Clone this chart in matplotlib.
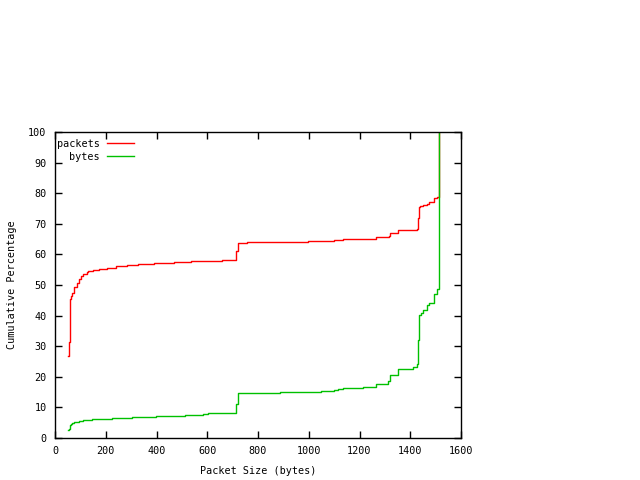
import matplotlib
matplotlib.use("Agg")
import matplotlib.pyplot as plt

# CDF of packet sizes (step curves)
pkt_x = [51, 54, 58, 60, 62, 68, 76, 85, 94, 102, 112, 125, 131, 148, 175, 204,
         223, 240, 282, 326, 391, 469, 536, 585, 657, 715, 720, 755, 996, 1101,
         1136, 1264, 1315, 1321, 1353, 1428, 1432, 1436, 1440, 1451, 1467, 1475,
         1495, 1504, 1514]
pkt_y = [26.8, 31.5, 44.0, 45.5, 46.5, 47.4, 49.2, 50.5, 51.9, 52.9, 53.6, 54.1,
         54.7, 54.9, 55.2, 55.4, 55.7, 56.1, 56.4, 56.7, 57.1, 57.5, 57.8, 58.0,
         58.3, 61.2, 63.6, 64.0, 64.3, 64.7, 65.0, 65.6, 66.0, 66.9, 67.9, 68.3,
         71.8, 75.6, 75.9, 76.1, 76.6, 77.0, 78.3, 78.9, 100.0]

byte_x = [51, 54, 58, 62, 68, 76, 94, 112, 144, 223, 302, 398, 512, 585, 604,
          715, 720, 887, 1048, 1101, 1117, 1136, 1215, 1264, 1300, 1313, 1321,
          1353, 1412, 1425, 1432, 1436, 1442, 1451, 1467, 1473, 1495, 1504, 1514]
byte_y = [2.6, 3.0, 4.2, 4.5, 5.0, 5.3, 5.6, 5.8, 6.1, 6.4, 6.8, 7.1, 7.5, 7.8,
          8.3, 11.2, 14.6, 14.9, 15.2, 15.7, 16.0, 16.3, 16.6, 17.5, 17.8, 18.5,
          20.6, 22.4, 23.1, 24.1, 32.0, 40.2, 40.7, 41.8, 43.5, 44.0, 47.1, 48.7,
          100.0]

x_ticks = list(range(0, 1601, 200))
y_ticks = list(range(0, 101, 10))

fs = 7.3
plt.rcParams['font.family'] = ['DejaVu Sans Mono']
plt.rcParams['font.size'] = fs

fig = plt.figure(figsize=(6.4, 4.8), dpi=100)
ax = fig.add_axes([55 / 640, 42 / 480, 406 / 640, 306 / 480])

ax.step(pkt_x, pkt_y, where='post', color='#ff0000', lw=1, label='packets')
ax.step(byte_x, byte_y, where='post', color='#00c000', lw=1, label='bytes')

ax.set_xlim(0, 1600)
ax.set_ylim(0, 100)
ax.set_xticks(x_ticks)
ax.set_yticks(y_ticks)
ax.tick_params(direction='in', length=5, width=1, top=True, right=True,
               labelsize=fs, pad=6)
for s in ax.spines.values():
    s.set_linewidth(1)

ax.set_xlabel("Packet Size (bytes)", fontsize=fs, labelpad=7)
ax.set_ylabel("Cumulative Percentage", fontsize=fs, labelpad=8)

ax.legend(loc='upper left', bbox_to_anchor=(0.0, 0.985), frameon=False,
          markerfirst=False, handlelength=2.7, handletextpad=0.7,
          labelspacing=0.3, borderaxespad=0.0, borderpad=0.2, fontsize=fs)

fig.savefig("out.png", dpi=100)
